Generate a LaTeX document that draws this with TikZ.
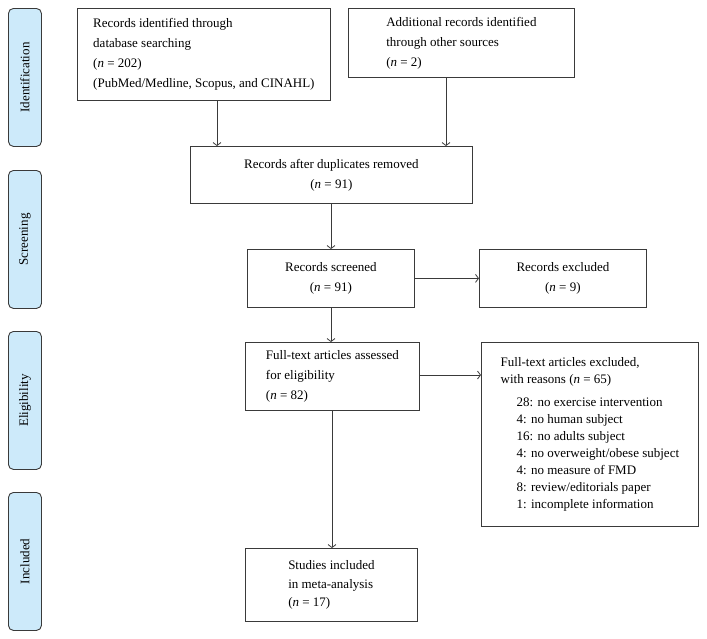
\documentclass[tikz,border=0pt]{standalone}
\usepackage{fontspec}
\setmainfont{Liberation Serif}
\usetikzlibrary{arrows.meta}
\definecolor{barfill}{HTML}{CDEAFA}
\definecolor{linec}{HTML}{3A3A3A}
\begin{document}
\begin{tikzpicture}[x=1pt,y=-1pt,
  box/.style={draw=linec, line width=0.8pt, rectangle, anchor=north west, align=left, inner sep=0pt,
    font=\fontsize{13}{20}\selectfont},
  cbox/.style={box, align=center},
  bar/.style={draw=linec, fill=barfill, line width=0.9pt, rounded corners=5pt, anchor=north west,
    minimum width=33pt, minimum height=138pt, inner sep=0pt},
  bartext/.style={rotate=90, font=\fontsize{13}{15}\selectfont},
  arr/.style={draw=linec, line width=0.8pt, -{Straight Barb[length=3pt,width=8pt]}}]
\useasboundingbox (0,0) rectangle (707,638);
% phase bars
\node[bar] (b1) at (8,8) {};
\node[bartext] (t1) at (b1.center) {Identification};
\node[bar] (b2) at (8,170) {};
\node[bartext] (t2) at (b2.center) {Screening};
\node[bar] (b3) at (8,331) {};
\node[bartext] (t3) at (b3.center) {Eligibility};
\node[bar] (b4) at (8,492) {};
\node[bartext] (t4) at (b4.center) {Included};
% boxes
\node[box, minimum width=253pt, minimum height=92pt] (n1) at (77,8)
  {Records identified through\\database searching\\(\textit{n} = 202)\\(PubMed/Medline, Scopus, and CINAHL)};
\node[box, minimum width=226pt, minimum height=69pt] (n2) at (348,8)
  {Additional records identified\\through other sources\\(\textit{n} = 2)};
\node[cbox, minimum width=282pt, minimum height=57pt] (n3) at (190,146)
  {Records after duplicates removed\\(\textit{n} = 91)};
\node[cbox, minimum width=167pt, minimum height=58pt] (n4) at (247,249)
  {Records screened\\(\textit{n} = 91)};
\node[cbox, minimum width=167pt, minimum height=58pt] (n5) at (479,249)
  {Records excluded\\(\textit{n} = 9)};
\node[box, minimum width=174pt, minimum height=68pt] (n6) at (245,342)
  {Full-text articles assessed\\for eligibility\\(\textit{n} = 82)};
\node[box, minimum width=217pt, minimum height=184pt, font=\fontsize{13}{17}\selectfont] (n7) at (481,342)
  {Full-text articles excluded,\\with reasons (\textit{n} = 65)\\[6pt]
   \hspace*{16pt}28: no exercise intervention\\
   \hspace*{16pt}4: no human subject\\
   \hspace*{16pt}16: no adults subject\\
   \hspace*{16pt}4: no overweight/obese subject\\
   \hspace*{16pt}4: no measure of FMD\\
   \hspace*{16pt}8: review/editorials paper\\
   \hspace*{16pt}1: incomplete information};
\node[box, minimum width=172pt, minimum height=73pt, font=\fontsize{13}{18.5}\selectfont] (n8) at (245,548)
  {Studies included\\in meta-analysis\\(\textit{n} = 17)};
% connectors
\draw[arr] (n1.south -| 217,0) -- (n3.north -| 217,0);
\draw[arr] (n2.south -| 446,0) -- (n3.north -| 446,0);
\draw[arr] (n3.south -| 331,0) -- (n4.north -| 331,0);
\draw[arr] (n4.east) -- (n5.west);
\draw[arr] (n4.south -| 331,0) -- (n6.north -| 331,0);
\draw[arr] (n6.east |- 0,375) -- (n7.west |- 0,375);
\draw[arr] (n6.south -| 332,0) -- (n8.north -| 332,0);
\end{tikzpicture}
\end{document}
